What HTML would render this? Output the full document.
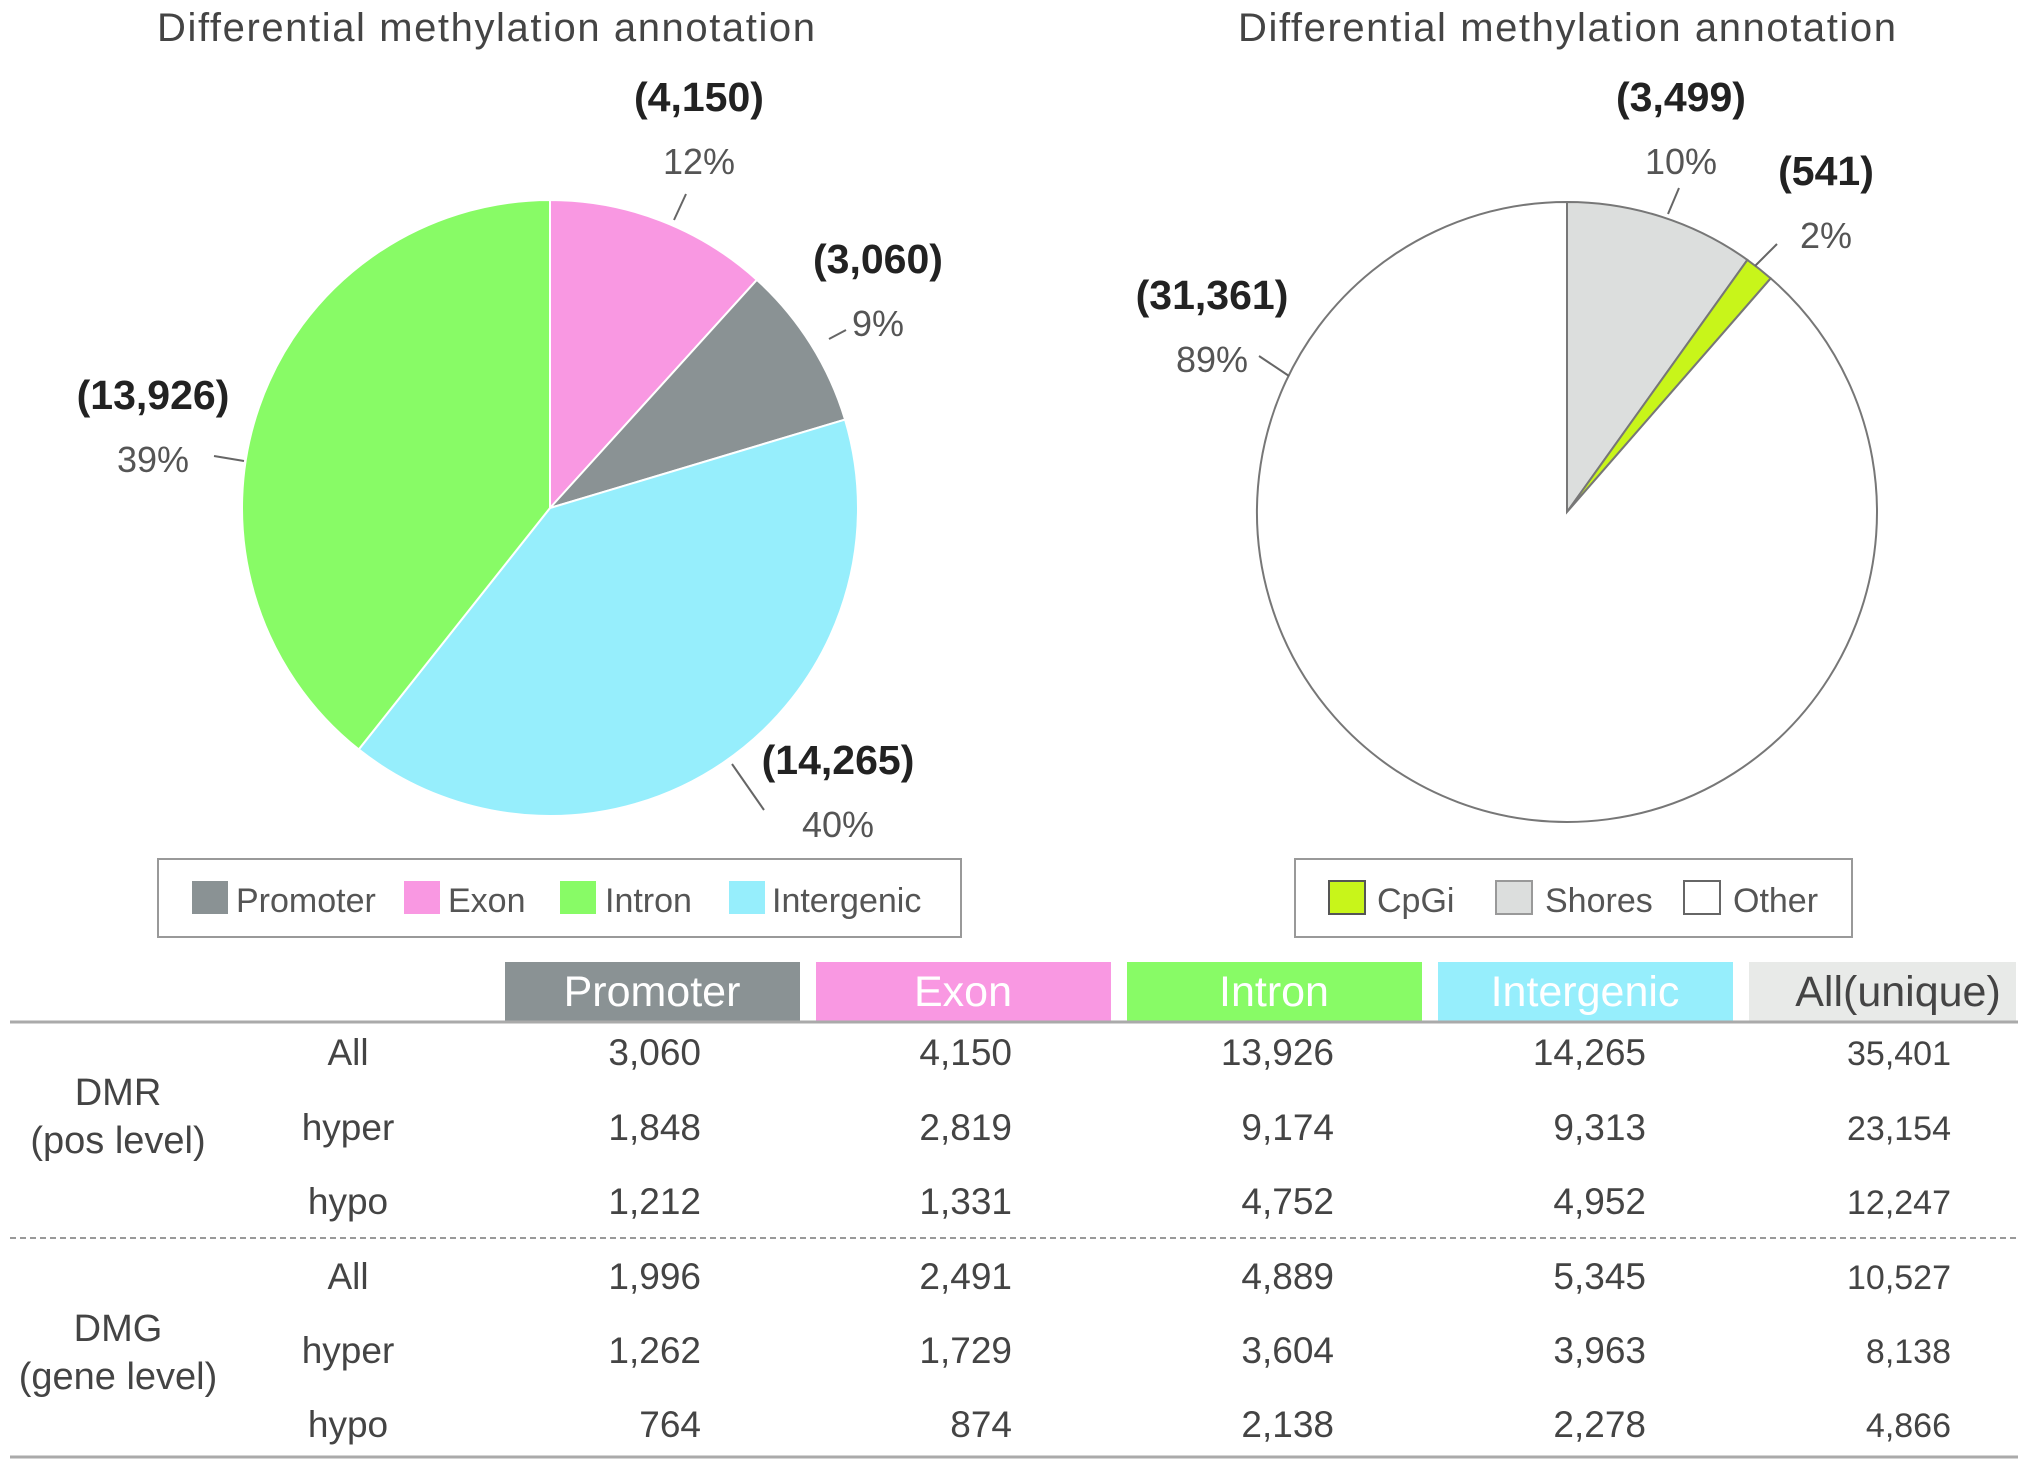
<!DOCTYPE html>
<html><head><meta charset="utf-8"><style>
html,body{margin:0;padding:0;background:#fff;}
svg{display:block;font-family:"Liberation Sans",Arial,sans-serif;}
</style></head><body>
<svg id="fig" width="2031" height="1469" viewBox="0 0 2031 1469" xmlns="http://www.w3.org/2000/svg">
<text x="486" y="41" font-size="40" fill="#444" text-anchor="middle" textLength="658">Differential methylation annotation</text>
<text x="1567" y="41" font-size="40" fill="#444" text-anchor="middle" textLength="658">Differential methylation annotation</text>
<g id="leftPie"></g>
<g id="rightPie"></g>
<g id="labels"></g>

<g>
<rect x="158" y="859" width="803" height="78" fill="#fff" stroke="#999" stroke-width="2"/>
<rect x="192" y="881" width="36" height="33" fill="#8a9294"/>
<text x="236" y="912" font-size="34" fill="#555">Promoter</text>
<rect x="404" y="881" width="36" height="33" fill="#f998e2"/>
<text x="448" y="912" font-size="34" fill="#555">Exon</text>
<rect x="560" y="881" width="36" height="33" fill="#88fb66"/>
<text x="605" y="912" font-size="34" fill="#555">Intron</text>
<rect x="729" y="881" width="36" height="33" fill="#96eefc"/>
<text x="772" y="912" font-size="34" fill="#555">Intergenic</text>
</g>
<g>
<rect x="1295" y="859" width="557" height="78" fill="#fff" stroke="#999" stroke-width="2"/>
<rect x="1329" y="881" width="36" height="33" fill="#c8f51a" stroke="#555" stroke-width="2"/>
<text x="1377" y="912" font-size="34" fill="#555">CpGi</text>
<rect x="1496" y="881" width="36" height="33" fill="#dcdedd" stroke="#999" stroke-width="2"/>
<text x="1545" y="912" font-size="34" fill="#555">Shores</text>
<rect x="1684" y="881" width="36" height="33" fill="#fff" stroke="#666" stroke-width="2"/>
<text x="1733" y="912" font-size="34" fill="#555">Other</text>
</g>

<g>
<rect x="505" y="962" width="295" height="59" fill="#8a9294"/>
<rect x="816" y="962" width="295" height="59" fill="#f998e2"/>
<rect x="1127" y="962" width="295" height="59" fill="#88fb66"/>
<rect x="1438" y="962" width="295" height="59" fill="#96eefc"/>
<rect x="1749" y="962" width="267" height="59" fill="#e8eae8"/>
<g font-size="43" text-anchor="middle">
<text x="652" y="1006" fill="#fff">Promoter</text>
<text x="963" y="1006" fill="#fff">Exon</text>
<text x="1274" y="1006" fill="#fff">Intron</text>
<text x="1585" y="1006" fill="#fff">Intergenic</text>
<text x="1898" y="1006" fill="#444">All(unique)</text>
</g>
<line x1="10" y1="1022" x2="2018" y2="1022" stroke="#aaa" stroke-width="3"/>
<line x1="10" y1="1238" x2="2018" y2="1238" stroke="#999" stroke-width="2" stroke-dasharray="6,4"/>
<line x1="10" y1="1457" x2="2018" y2="1457" stroke="#aaa" stroke-width="3"/>
<g font-size="38" fill="#444" text-anchor="middle">
<text x="118" y="1105">DMR</text>
<text x="118" y="1153">(pos level)</text>
<text x="118" y="1341">DMG</text>
<text x="118" y="1389">(gene level)</text>
</g>
<g id="tbody" font-size="37" fill="#444"></g>
</g>
</svg>
<script>
var leftCats=["Exon","Promoter","Intergenic","Intron"];
var leftVals=[4150,3060,14265,13926];
var leftColors=["#f998e2","#8a9294","#96eefc","#88fb66"];
var rightCats=["Shores","CpGi","Other"];
var rightVals=[3499,541,31361];
var rightColors=["#dcdedd","#c8f51a","#ffffff"];
var rowLabels=["All","hyper","hypo","All","hyper","hypo"];
var tPromoter=["3,060","1,848","1,212","1,996","1,262","764"];
var tExon=["4,150","2,819","1,331","2,491","1,729","874"];
var tIntron=["13,926","9,174","4,752","4,889","3,604","2,138"];
var tIntergenic=["14,265","9,313","4,952","5,345","3,963","2,278"];
var tAll=["35,401","23,154","12,247","10,527","8,138","4,866"];

var NS="http://www.w3.org/2000/svg";
function mk(tag,attrs,parent){var e=document.createElementNS(NS,tag);for(var k in attrs)e.setAttribute(k,attrs[k]);parent.appendChild(e);return e;}
function pt(cx,cy,r,a){return [cx+r*Math.sin(a),cy-r*Math.cos(a)];}
function drawPie(g,cx,cy,r,vals,cols,cats,stroke,sw){
  var tot=vals.reduce(function(a,b){return a+b;},0),a0=0;
  for(var i=0;i<vals.length;i++){
    var a1=a0+vals[i]/tot*2*Math.PI;
    var p0=pt(cx,cy,r,a0),p1=pt(cx,cy,r,a1);
    var d="M"+cx+","+cy+"L"+p0[0]+","+p0[1]+"A"+r+","+r+" 0 "+((a1-a0)>Math.PI?1:0)+" 1 "+p1[0]+","+p1[1]+"Z";
    var p=mk("path",{d:d,fill:cols[i],stroke:stroke,"stroke-width":sw},g);
    
    
    a0=a1;
  }
}
drawPie(document.getElementById("leftPie"),550,508,308,leftVals,leftColors,leftCats,"#fff",2);
drawPie(document.getElementById("rightPie"),1567,512,310,rightVals,rightColors,rightCats,"#777",2);

var lg=document.getElementById("labels");
function fmt(v){return v.toString().replace(/\B(?=(\d{3})+(?!\d))/g,",");}
function pct(vals,i){var t=vals.reduce(function(a,b){return a+b;},0);return Math.round(vals[i]/t*100)+"%";}
var leftPos=[[699,97,674,220,686,194],[878,259,829,339,846,330],[838,760,732,764,764,810],[153,395,214,456,244,461]];
var rightPos=[[1681,97,1668,214,1679,188],[1826,171,1755,266,1777,244],[1212,295,1289,376,1259,356]];
function labels(vals,cats,pos){
  for(var i=0;i<vals.length;i++){
    var q=pos[i];
    var t=mk("text",{x:q[0],y:q[1]+14,"font-size":41,"font-weight":"bold",fill:"#222","text-anchor":"middle"},lg);
    t.textContent="("+fmt(vals[i])+")";
    
    
    var s=mk("text",{x:q[0],y:q[1]+77,"font-size":36,fill:"#555","text-anchor":"middle"},lg);
    s.textContent=pct(vals,i);
    
    
    var l=mk("line",{x1:q[2],y1:q[3],x2:q[4],y2:q[5],stroke:"#666","stroke-width":2},lg);
    
    
  }
}
labels(leftVals,leftCats,leftPos);
labels(rightVals,rightCats,rightPos);

var tb=document.getElementById("tbody");
var rowY=[1065,1140,1214,1289,1363,1437];
var cols=[[tPromoter,701,"promoter",37],[tExon,1012,"exon",37],[tIntron,1334,"intron",37],[tIntergenic,1646,"intergenic",37],[tAll,1951,"all",34]];
for(var r=0;r<rowLabels.length;r++){
  var t=mk("text",{x:348,y:rowY[r],"text-anchor":"middle"},tb);
  t.textContent=rowLabels[r];
  
  
  for(var c=0;c<cols.length;c++){
    var e=mk("text",{x:cols[c][1],y:rowY[r],"text-anchor":"end","font-size":cols[c][3]},tb);
    e.textContent=cols[c][0][r];
    
    
  }
}
</script>
</body></html>
